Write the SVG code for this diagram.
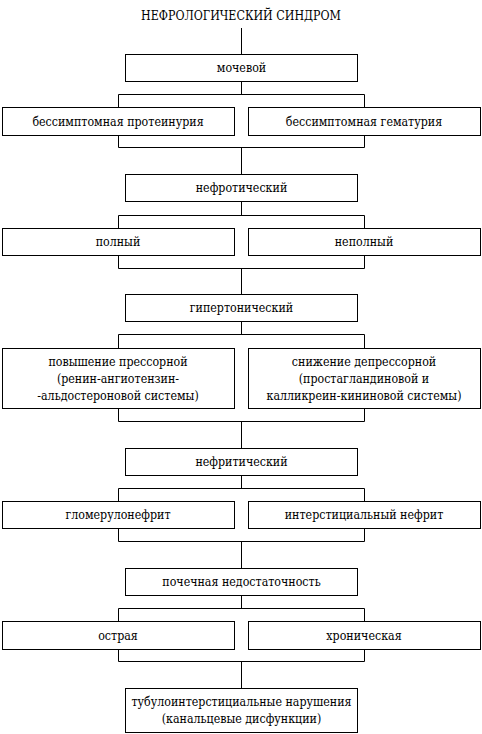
<svg xmlns="http://www.w3.org/2000/svg" width="482" height="734" viewBox="0 0 482 734">
<style>
.box{fill:#fff;stroke:#000;stroke-width:1}
.ln{fill:none;stroke:#000;stroke-width:1}
.t{font-family:'DejaVu Serif Condensed','Liberation Serif',serif;font-size:12.3px;fill:#000;text-anchor:middle}
</style>
<rect width="482" height="734" fill="#fff"/>
<g id="connectors">
<path class="ln" d="M241.5 28V54.5"/>
<path class="ln" d="M241.5 81.5V94.5M118.5 107.5V94.5H364.5V107.5"/>
<path class="ln" d="M118.5 135.5V147.5H364.5V135.5M241.5 147.5V174.5"/>
<path class="ln" d="M241.5 201.5V215.5M118.5 228.5V215.5H364.5V228.5"/>
<path class="ln" d="M118.5 255.5V268.5H364.5V255.5M241.5 268.5V294.5"/>
<path class="ln" d="M241.5 321.5V334.5M118.5 348.5V334.5H364.5V348.5"/>
<path class="ln" d="M118.5 408.5V421.5H364.5V408.5M241.5 421.5V448.5"/>
<path class="ln" d="M241.5 475.5V488.5M118.5 501.5V488.5H364.5V501.5"/>
<path class="ln" d="M118.5 528.5V541.5H364.5V528.5M241.5 541.5V568.5"/>
<path class="ln" d="M241.5 595.5V608.5M118.5 621.5V608.5H364.5V621.5"/>
<path class="ln" d="M118.5 649.5V661.5H364.5V649.5M241.5 661.5V688.5"/>
</g>
<g id="title"><text class="t" x="241" y="20">НЕФРОЛОГИЧЕСКИЙ СИНДРОМ</text></g>
<g id="n1"><rect class="box" x="125.5" y="54.5" width="232" height="27"/><text class="t" x="241.5" y="72">мочевой</text></g>
<g id="n1a"><rect class="box" x="2.5" y="107.5" width="232" height="28"/><text class="t" x="118" y="125.5">бессимптомная протеинурия</text></g>
<g id="n1b"><rect class="box" x="248.5" y="107.5" width="232" height="28"/><text class="t" x="364" y="125.5">бессимптомная гематурия</text></g>
<g id="n2"><rect class="box" x="125.5" y="174.5" width="232" height="27"/><text class="t" x="241.5" y="192">нефротический</text></g>
<g id="n2a"><rect class="box" x="2.5" y="228.5" width="232" height="27"/><text class="t" x="118" y="246">полный</text></g>
<g id="n2b"><rect class="box" x="248.5" y="228.5" width="232" height="27"/><text class="t" x="364" y="246">неполный</text></g>
<g id="n3"><rect class="box" x="125.5" y="294.5" width="232" height="27"/><text class="t" x="241.5" y="312">гипертонический</text></g>
<g id="n3a"><rect class="box" x="2.5" y="348.5" width="232" height="60"/><text class="t" x="118" y="365.5">повышение прессорной</text><text class="t" x="118" y="382.5">(ренин-ангиотензин-</text><text class="t" x="118" y="399.5">-альдостероновой системы)</text></g>
<g id="n3b"><rect class="box" x="248.5" y="348.5" width="232" height="60"/><text class="t" x="364" y="365.5">снижение депрессорной</text><text class="t" x="364" y="382.5">(простагландиновой и</text><text class="t" x="364" y="399.5">калликреин-кининовой системы)</text></g>
<g id="n4"><rect class="box" x="125.5" y="448.5" width="232" height="27"/><text class="t" x="241.5" y="466">нефритический</text></g>
<g id="n4a"><rect class="box" x="2.5" y="501.5" width="232" height="27"/><text class="t" x="118" y="519">гломерулонефрит</text></g>
<g id="n4b"><rect class="box" x="248.5" y="501.5" width="232" height="27"/><text class="t" x="364" y="519">интерстициальный нефрит</text></g>
<g id="n5"><rect class="box" x="125.5" y="568.5" width="232" height="27"/><text class="t" x="241.5" y="586">почечная недостаточность</text></g>
<g id="n5a"><rect class="box" x="2.5" y="621.5" width="232" height="28"/><text class="t" x="118" y="639.5">острая</text></g>
<g id="n5b"><rect class="box" x="248.5" y="621.5" width="232" height="28"/><text class="t" x="364" y="639.5">хроническая</text></g>
<g id="n6"><rect class="box" x="125.5" y="688.5" width="232" height="44"/><text class="t" x="241.5" y="705.5">тубулоинтерстициальные нарушения</text><text class="t" x="241.5" y="722.5">(канальцевые дисфункции)</text></g>
</svg>
